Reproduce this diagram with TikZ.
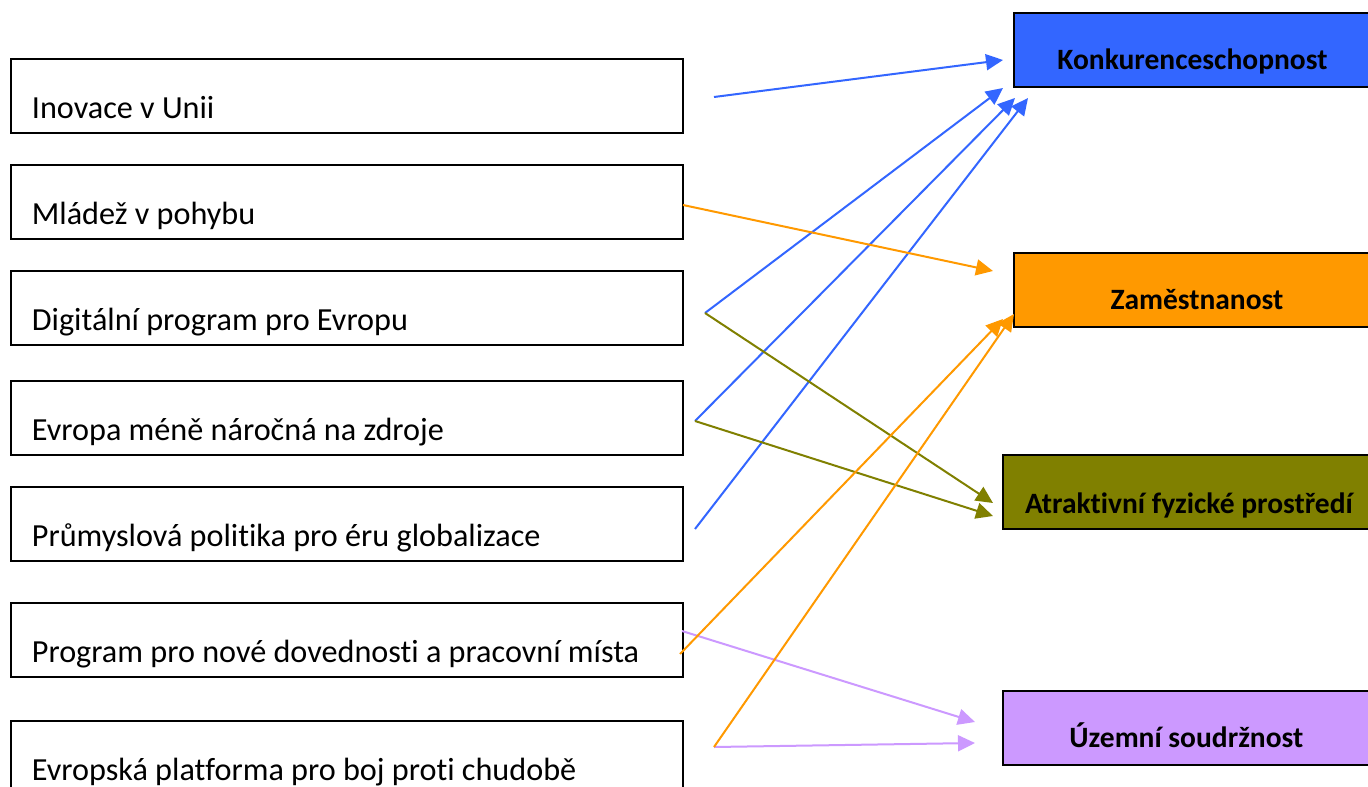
\documentclass[tikz,border=0pt]{standalone}
\usepackage{fontspec}
\setmainfont{Carlito}[Ligatures=NoCommon]
\usetikzlibrary{arrows.meta}
\definecolor{cblue}{HTML}{3366FF}
\definecolor{corange}{HTML}{FF9900}
\definecolor{colive}{HTML}{808000}
\definecolor{cpurple}{HTML}{CC99FF}
\tikzset{
  x=1pt,y=-1pt,
  leftbox/.style={draw=black,line width=1.8pt,fill=white,anchor=north west,inner xsep=21pt,inner ysep=0pt,
    text width=630pt,align=flush left,text height=60pt,text depth=14pt,font=\fontsize{32.2}{34}\selectfont},
  rightbox/.style={draw=black,line width=1.8pt,anchor=north west,inner xsep=0pt,inner ysep=0pt,
    align=flush center,text height=57pt,text depth=17pt,font=\fontsize{29.5}{31}\selectfont\bfseries},
  link/.style={line width=2pt,-{Triangle[length=17pt,width=16pt]}},
}
\begin{document}
\begin{tikzpicture}
\useasboundingbox (0,0) rectangle (1368,787);
\clip (0,0) rectangle (1368,787);
\fill[white] (0,0) rectangle (1368,787);
\node[leftbox] (a1) at (10,58) {Inovace v Unii};
\node[leftbox] (a2) at (10,164) {Mládež v pohybu};
\node[leftbox] (a3) at (10,270) {Digitální program pro Evropu};
\node[leftbox] (a4) at (10,380) {Evropa méně náročná na zdroje};
\node[leftbox] (a5) at (10,486) {Průmyslová politika pro éru globalizace};
\node[leftbox] (a6) at (10,602) {Program pro nové dovednosti a pracovní místa};
\node[leftbox] (a7) at (10,720) {Evropská platforma pro boj proti chudobě};
\node[rightbox,fill=cblue,text width=357pt] (b1) at (1013,12) {Konkurenceschopnost};
\node[rightbox,fill=corange,text width=366pt] (b2) at (1013,252) {Zaměstnanost};
\node[rightbox,fill=colive,text width=372pt,text height=59pt,text depth=15pt] (b3) at (1002,454) {Atraktivní fyzické prostředí};
\node[rightbox,fill=cpurple,text width=367pt] (b4) at (1002,690) {Územní soudržnost};
% free connector ends
\coordinate (s1) at (714,97);
\coordinate (s3) at (705,313);
\coordinate (s4) at (695,421);
\coordinate (s5) at (695,529);
\coordinate (s2) at (683,205);
\coordinate (s6) at (680,654);
\coordinate (s7) at (714,747);
\coordinate (s8) at (682,631);
\coordinate (t1) at (1003,60);
\coordinate (t2) at (1003,88);
\coordinate (t3) at (1015,98);
\coordinate (t4) at (1028,98);
\coordinate (t5) at (993,271);
\coordinate (t6) at (1003,319);
\coordinate (t7) at (1014,314);
\coordinate (t8) at (993,503);
\coordinate (t9) at (993,516);
\coordinate (t10) at (975,722);
\coordinate (t11) at (975,743);
\draw[link,cblue] (s1) -- (t1);
\draw[link,cblue] (s3) -- (t2);
\draw[link,cblue] (s4) -- (t3);
\draw[link,cblue] (s5) -- (t4);
\draw[link,corange] (s2) -- (t5);
\draw[link,colive] (s3) -- (t8);
\draw[link,colive] (s4) -- (t9);
\draw[link,cpurple] (s8) -- (t10);
\draw[link,cpurple] (s7) -- (t11);
\draw[link,corange] (s6) -- (t6);
\draw[link,corange] (s7) -- (t7);
\end{tikzpicture}
\end{document}
